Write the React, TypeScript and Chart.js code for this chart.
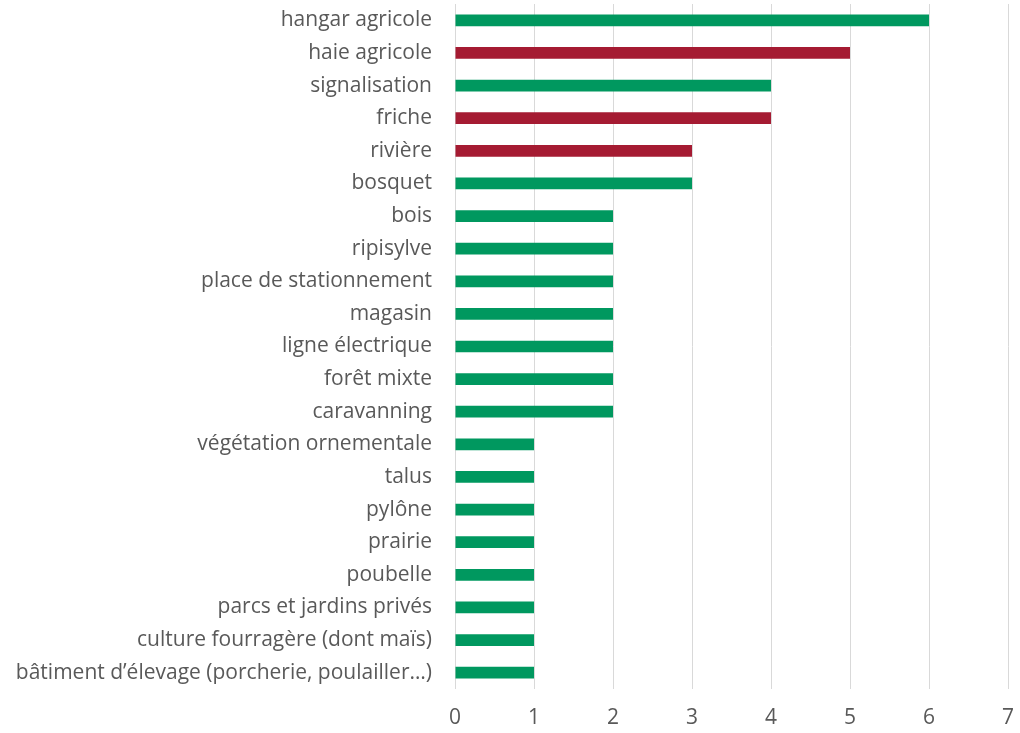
import React, { useEffect, useRef } from "react";
import { Chart, registerables } from "chart.js";

Chart.register(...registerables);

const categories = [
  "hangar agricole",
  "haie agricole",
  "signalisation",
  "friche",
  "rivière",
  "bosquet",
  "bois",
  "ripisylve",
  "place de stationnement",
  "magasin",
  "ligne électrique",
  "forêt mixte",
  "caravanning",
  "végétation ornementale",
  "talus",
  "pylône",
  "prairie",
  "poubelle",
  "parcs et jardins privés",
  "culture fourragère (dont maïs)",
  "bâtiment d’élevage (porcherie, poulailler…)",
];

const values = [6, 5, 4, 4, 3, 3, 2, 2, 2, 2, 2, 2, 2, 1, 1, 1, 1, 1, 1, 1, 1];

// "g" = green, "r" = red
const colorGroups = ["g", "r", "g", "r", "r", "g", "g", "g", "g", "g", "g", "g", "g", "g", "g", "g", "g", "g", "g", "g", "g"];

const GREEN = "#00985F";
const RED = "#A51B32";

const xMin = 0;
const xMax = 7;

const FONT = { family: "'Open Sans', sans-serif", size: 21 };

export default function App() {
  const ref = useRef<HTMLCanvasElement | null>(null);

  useEffect(() => {
    if (!ref.current) return;
    const chart = new Chart(ref.current, {
      type: "bar",
      data: {
        labels: categories,
        datasets: [
          {
            data: values,
            backgroundColor: colorGroups.map((c) => (c === "r" ? RED : GREEN)),
            borderWidth: 0,
            categoryPercentage: 1,
            barPercentage: 0.36,
          },
        ],
      },
      options: {
        indexAxis: "y",
        responsive: false,
        animation: false,
        layout: { padding: { top: 4, right: 12, left: 0, bottom: 0 } },
        plugins: {
          legend: { display: false },
          tooltip: { enabled: false },
        },
        scales: {
          x: {
            min: xMin,
            max: xMax,
            ticks: {
              stepSize: 1,
              padding: 16,
              color: "#595959",
              font: FONT,
            },
            grid: {
              color: "#D9D9D9",
              lineWidth: 1,
              drawTicks: false,
            },
            border: { display: false },
            afterFit: (scale: any) => {
              scale.height = 44;
              scale.paddingLeft = 0;
              scale.paddingRight = 0;
            },
          },
          y: {
            ticks: {
              padding: 23,
              color: "#595959",
              font: FONT,
              autoSkip: false,
            },
            grid: { display: false, drawTicks: false },
            border: { display: false },
            afterFit: (scale: any) => {
              scale.width = 455;
              scale.paddingTop = 0;
              scale.paddingBottom = 0;
            },
          },
        },
      },
    });
    return () => chart.destroy();
  }, []);

  return (
    <div style={{ position: "fixed", left: 0, top: 0, width: 1020, height: 733, background: "#fff" }}>
      <canvas ref={ref} width={1020} height={733} style={{ display: "block" }} />
    </div>
  );
}
